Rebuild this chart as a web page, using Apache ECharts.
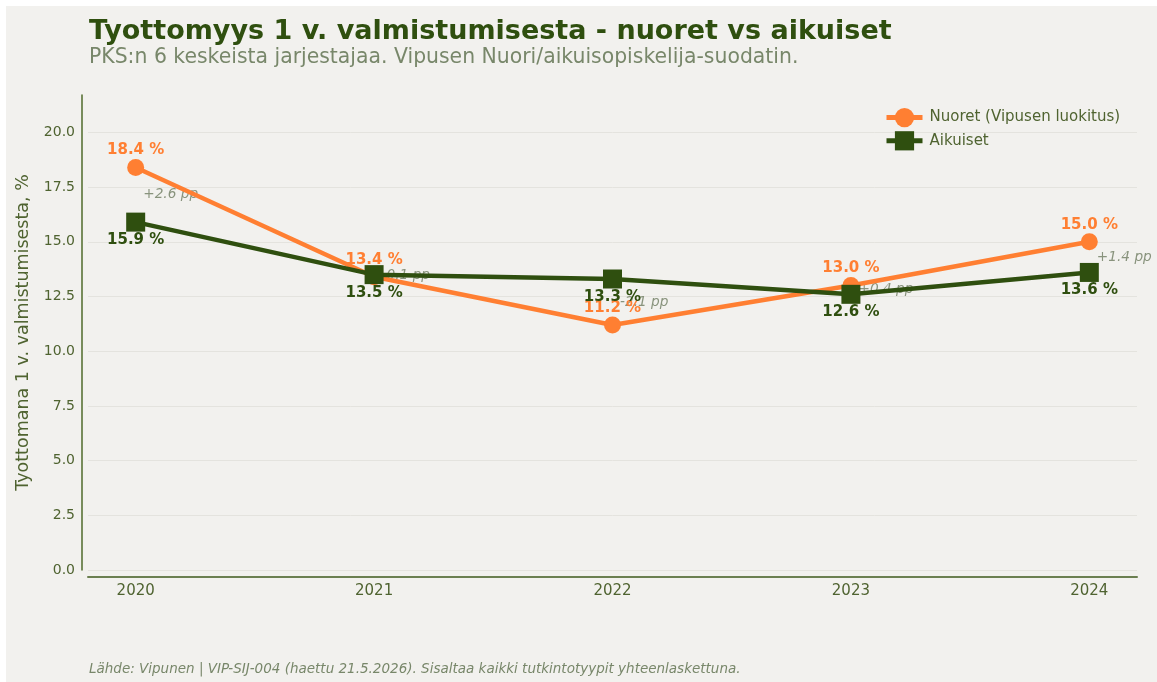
<!DOCTYPE html>
<html>
<head>
<meta charset="utf-8">
<script src="https://cdn.jsdelivr.net/npm/echarts@6/dist/echarts.min.js"></script>
<style>
  html, body { margin: 0; padding: 0; background: #ffffff; }
  #chart { position: absolute; left: 6px; top: 6px; width: 1151px; height: 676px; }
</style>
</head>
<body>
<div id="chart"></div>
<script>
// data
const years = ['2020', '2021', '2022', '2023', '2024'];
const nuoret = [18.4, 13.4, 11.2, 13.0, 15.0];
const aikuiset = [15.9, 13.5, 13.3, 12.6, 13.6];
const diffs = [2.6, -0.1, -2.1, 0.4, 1.4];
const yTicks = [0, 2.5, 5, 7.5, 10, 12.5, 15, 17.5, 20];

const ORANGE = '#ff7f32';
const GREEN = '#2f4f0f';
const OLIVE = '#4f6330';
const MUTED = '#78876a';
const FONT = '"DejaVu Sans", sans-serif';

const chart = echarts.init(document.getElementById('chart'));

const option = {
  backgroundColor: '#f2f1ee',
  textStyle: { fontFamily: FONT },
  title: [
    {
      text: 'Tyottomyys 1 v. valmistumisesta - nuoret vs aikuiset',
      subtext: 'PKS:n 6 keskeista jarjestajaa. Vipusen Nuori/aikuisopiskelija-suodatin.',
      left: 78,
      top: 7,
      itemGap: 3,
      textStyle: { fontFamily: FONT, fontSize: 27, fontWeight: 'bold', color: GREEN },
      subtextStyle: { fontFamily: FONT, fontSize: 20.4, color: MUTED }
    },
    {
      text: 'Lähde: Vipunen | VIP-SIJ-004 (haettu 21.5.2026). Sisaltaa kaikki tutkintotyypit yhteenlaskettuna.',
      left: 78,
      top: 651,
      textStyle: { fontFamily: FONT, fontSize: 13.5, fontStyle: 'italic', fontWeight: 'normal', color: MUTED }
    }
  ],
  legend: {
    data: ['Nuoret (Vipusen luokitus)', 'Aikuiset'],
    orient: 'vertical',
    left: 873,
    top: 97,
    itemWidth: 36,
    itemHeight: 24,
    itemGap: 4,
    lineStyle: { width: 5 },
    textStyle: { fontFamily: FONT, fontSize: 15, color: OLIVE, padding: [0, 0, 0, 2] }
  },
  grid: { left: 82, right: 20, top: 89, bottom: 112, outerBoundsMode: 'none' },
  xAxis: {
    type: 'value',
    min: -0.2,
    max: 4.2,
    offset: 7,
    axisLine: { show: true, onZero: false, lineStyle: { color: '#6b7f50', width: 2 } },
    axisTick: { show: false, customValues: [0, 1, 2, 3, 4] },
    splitLine: { show: false },
    axisLabel: {
      customValues: [0, 1, 2, 3, 4],
      formatter: (v) => years[Math.round(v)],
      color: OLIVE,
      fontSize: 15,
      margin: 7
    }
  },
  yAxis: {
    type: 'value',
    min: 0,
    max: 21.71,
    interval: 2.5,
    offset: 6,
    name: 'Tyottomana 1 v. valmistumisesta, %',
    nameLocation: 'middle',
    nameGap: 46,
    nameTextStyle: { fontFamily: FONT, fontSize: 17.5, color: OLIVE },
    axisLine: { show: true, onZero: false, lineStyle: { color: '#4f6a2a', width: 1.5 } },
    axisTick: { show: false },
    axisLabel: {
      color: OLIVE,
      fontSize: 14,
      margin: 7,
      formatter: (v) => (yTicks.includes(v) ? v.toFixed(1) : '')
    },
    splitLine: { show: true, showMaxLine: false, lineStyle: { color: '#e4e3de', width: 1 } }
  },
  series: [
    {
      name: 'diff',
      type: 'scatter',
      z: 1,
      symbolSize: 1,
      itemStyle: { color: 'rgba(0,0,0,0)' },
      silent: true,
      data: diffs.map((d, i) => [i, (nuoret[i] + aikuiset[i]) / 2, d]),
      label: {
        show: true,
        position: 'right',
        distance: 7,
        formatter: (p) => (p.data[2] > 0 ? '+' : '') + p.data[2].toFixed(1) + ' pp',
        fontFamily: FONT,
        fontSize: 13.7,
        fontStyle: 'italic',
        color: '#6e7c60'
      }
    },
    {
      name: 'Nuoret (Vipusen luokitus)',
      type: 'line',
      z: 2,
      data: nuoret.map((v, i) => [i, v]),
      symbol: 'circle',
      symbolSize: 17,
      color: ORANGE,
      lineStyle: { width: 4.5, color: ORANGE },
      itemStyle: { color: ORANGE },
      label: {
        show: true,
        position: 'top',
        distance: 1,
        formatter: (p) => p.data[1].toFixed(1) + ' %',
        fontFamily: FONT,
        fontSize: 15,
        fontWeight: 'bold',
        color: ORANGE
      }
    },
    {
      name: 'Aikuiset',
      type: 'line',
      z: 3,
      data: aikuiset.map((v, i) => [i, v]),
      symbol: 'rect',
      symbolSize: 19,
      color: GREEN,
      lineStyle: { width: 4.5, color: GREEN },
      itemStyle: { color: GREEN },
      label: {
        show: true,
        position: 'bottom',
        distance: 1,
        formatter: (p) => p.data[1].toFixed(1) + ' %',
        fontFamily: FONT,
        fontSize: 15,
        fontWeight: 'bold',
        color: GREEN
      }
    }
  ]
};

chart.setOption(option);
</script>
</body>
</html>
